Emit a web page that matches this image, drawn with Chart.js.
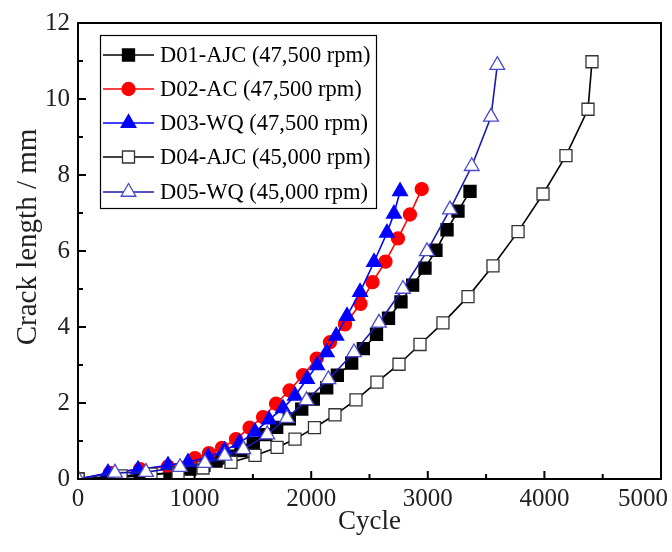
<!DOCTYPE html>
<html><head><meta charset="utf-8">
<script src="https://cdn.jsdelivr.net/npm/chart.js@4/dist/chart.umd.min.js"></script>
<style>html,body{margin:0;padding:0;background:#fff}</style>
</head><body>
<canvas id="c" width="672" height="552"></canvas>
<script>
// ---- data ----
const d01Cycles = [0, 274, 532, 789, 960, 1080, 1184, 1295, 1398, 1503, 1610, 1704, 1812, 1919, 2018, 2133, 2224, 2347, 2447, 2560, 2663, 2770, 2870, 2976, 3070, 3165, 3259, 3362];
const d01Length = [0, 0.03, 0.08, 0.16, 0.26, 0.36, 0.47, 0.60, 0.75, 0.93, 1.17, 1.36, 1.58, 1.84, 2.10, 2.40, 2.73, 3.05, 3.43, 3.81, 4.23, 4.66, 5.10, 5.55, 6.02, 6.56, 7.05, 7.57];

const d02Cycles = [0, 274, 532, 772, 1003, 1123, 1235, 1355, 1471, 1587, 1698, 1814, 1930, 2047, 2161, 2290, 2423, 2526, 2637, 2744, 2847, 2948];
const d02Length = [0, 0.16, 0.26, 0.33, 0.55, 0.68, 0.82, 1.05, 1.35, 1.63, 1.98, 2.33, 2.73, 3.17, 3.60, 4.07, 4.61, 5.18, 5.72, 6.33, 6.96, 7.63];

const d03Cycles = [0, 257, 515, 772, 943, 1115, 1256, 1385, 1518, 1638, 1758, 1861, 1964, 2050, 2133, 2215, 2307, 2419, 2539, 2650, 2710, 2762];
const d03Length = [0, 0.16, 0.25, 0.36, 0.44, 0.58, 0.75, 0.95, 1.24, 1.56, 1.86, 2.19, 2.63, 2.99, 3.33, 3.77, 4.29, 4.92, 5.71, 6.48, 6.98, 7.57];

const d04Cycles = [0, 369, 626, 858, 1072, 1312, 1518, 1707, 1861, 2028, 2204, 2384, 2564, 2753, 2933, 3130, 3345, 3559, 3774, 3988, 4185, 4374, 4408];
const d04Length = [0, 0.08, 0.13, 0.16, 0.29, 0.44, 0.62, 0.83, 1.05, 1.35, 1.69, 2.08, 2.55, 3.02, 3.54, 4.11, 4.80, 5.61, 6.51, 7.50, 8.51, 9.73, 10.98];

const d05Cycles = [0, 317, 583, 875, 1089, 1258, 1418, 1623, 1792, 1960, 2147, 2367, 2581, 2787, 2993, 3190, 3377, 3542, 3596];
const d05Length = [0, 0.16, 0.18, 0.31, 0.42, 0.61, 0.78, 1.17, 1.60, 2.07, 2.62, 3.33, 4.11, 5.00, 5.99, 7.09, 8.23, 9.53, 10.89];

const seriesLabels = ['D01-AJC (47,500 rpm)', 'D02-AC (47,500 rpm)', 'D03-WQ (47,500 rpm)', 'D04-AJC (45,000 rpm)', 'D05-WQ (45,000 rpm)'];
const xTickValues = [0, 1000, 2000, 3000, 4000, 5000];
const yTickValues = [0, 2, 4, 6, 8, 10, 12];
const xTitle = 'Cycle';
const yTitle = 'Crack length / mm';

// ---- build ----
const FONT = 'Liberation Serif, Times New Roman, serif';
const TICK_SIZE = 25;
const pts = (xs, ys) => xs.map((x, i) => ({x, y: ys[i]}));

const styles = [
  {line: '#000000', fill: '#000000', border: '#000000', shape: 'rect', r: 8.5},
  {line: '#ff0000', fill: '#ff0000', border: '#ff0000', shape: 'circle', r: 6.5},
  {line: '#0000ff', fill: '#0000ff', border: '#0000ff', shape: 'triangle', r: 8.5},
  {line: '#000000', fill: '#ffffff', border: '#333333', shape: 'rect', r: 8.5},
  {line: '#1a1ab0', fill: '#ffffff', border: '#4a4ac8', shape: 'triangle', r: 8.5}
];
const dataList = [pts(d01Cycles, d01Length), pts(d02Cycles, d02Length), pts(d03Cycles, d03Length), pts(d04Cycles, d04Length), pts(d05Cycles, d05Length)];

const datasets = dataList.map((d, i) => ({
  label: seriesLabels[i],
  data: d,
  borderColor: styles[i].line,
  borderWidth: 1.6,
  pointStyle: styles[i].shape,
  pointRadius: styles[i].r,
  pointBackgroundColor: styles[i].fill,
  pointBorderColor: styles[i].border,
  pointBorderWidth: 1.3,
  tension: 0,
  order: 5 - i
}));

const frameAndTicks = {
  id: 'frameAndTicks',
  afterDatasetsDraw(chart) {
    const {ctx, chartArea: a, scales: {x, y}} = chart;
    ctx.save();
    ctx.strokeStyle = '#000';
    ctx.lineWidth = 2;
    ctx.strokeRect(a.left, a.top, a.right - a.left, a.bottom - a.top);
    ctx.beginPath();
    for (let v = 0; v <= 5000; v += 500) {
      const px = x.getPixelForValue(v);
      const len = v % 1000 === 0 ? 8 : 5;
      ctx.moveTo(px, a.bottom); ctx.lineTo(px, a.bottom - len);
    }
    for (let v = 0; v <= 12; v += 1) {
      const py = y.getPixelForValue(v);
      const len = v % 2 === 0 ? 8 : 5;
      ctx.moveTo(a.left, py); ctx.lineTo(a.left + len, py);
    }
    ctx.stroke();
    // x tick labels (last one kept inside the canvas, as in the reference)
    ctx.fillStyle = '#222';
    ctx.font = TICK_SIZE + 'px ' + FONT;
    ctx.textAlign = 'center';
    ctx.textBaseline = 'top';
    xTickValues.forEach(v => {
      const t = String(v);
      const w = ctx.measureText(t).width;
      let px = x.getPixelForValue(v);
      px = Math.min(px, chart.width - 4 - w / 2);
      ctx.fillText(t, px, a.bottom + 8);
    });
    // y axis title
    ctx.save();
    ctx.translate(28, 237);
    ctx.rotate(-Math.PI / 2);
    ctx.font = '29px ' + FONT;
    ctx.textBaseline = 'middle';
    ctx.fillText(yTitle, 0, 0);
    ctx.restore();
    ctx.restore();
  },
  afterDraw(chart) {
    const {ctx} = chart;
    ctx.save();
    const bx = 100, by = 35, bw = 276, bh = 173;
    ctx.fillStyle = '#fff';
    ctx.fillRect(bx, by, bw, bh);
    ctx.strokeStyle = '#000';
    ctx.lineWidth = 1.2;
    ctx.strokeRect(bx + 0.5, by + 0.5, bw, bh);
    const rows = [55, 89, 123, 157, 192];
    ctx.font = '22.5px ' + FONT;
    ctx.textBaseline = 'middle';
    rows.forEach((ry, i) => {
      const s = styles[i];
      ctx.strokeStyle = s.line;
      ctx.lineWidth = 1.6;
      ctx.beginPath(); ctx.moveTo(103, ry); ctx.lineTo(154, ry); ctx.stroke();
      ctx.fillStyle = s.fill; ctx.strokeStyle = s.border; ctx.lineWidth = 1.3;
      Chart.helpers.drawPoint(ctx, {pointStyle: s.shape, radius: s.r, borderWidth: 1.3, rotation: 0}, 128.5, ry);
      ctx.fillStyle = '#000';
      ctx.fillText(seriesLabels[i], 160, ry + 1);
    });
    ctx.restore();
  }
};

new Chart(document.getElementById('c'), {
  type: 'line',
  data: {datasets},
  options: {
    responsive: false,
    animation: false,
    layout: {padding: {top: 18, right: 11, left: 0, bottom: 0}},
    plugins: {legend: {display: false}, tooltip: {enabled: false}},
    scales: {
      x: {
        type: 'linear', min: 0, max: 5000,
        afterBuildTicks: s => { s.ticks = xTickValues.map(v => ({value: v})); },
        afterFit: s => { s.height = 73; s.paddingRight = 0; s.paddingLeft = 0; },
        grid: {display: false, drawTicks: false},
        border: {display: false},
        ticks: {display: false},
        title: {display: true, text: xTitle, color: '#222', font: {family: FONT, size: 27}, padding: {top: 0, bottom: 14}}
      },
      y: {
        type: 'linear', min: 0, max: 12,
        afterBuildTicks: s => { s.ticks = yTickValues.map(v => ({value: v})); },
        afterFit: s => { s.width = 78; },
        grid: {display: false, drawTicks: false},
        border: {display: false},
        ticks: {color: '#222', font: {family: FONT, size: TICK_SIZE}, padding: 8, callback: v => String(v)},
        title: {display: false}
      }
    }
  },
  plugins: [frameAndTicks]
});
</script>
</body></html>
